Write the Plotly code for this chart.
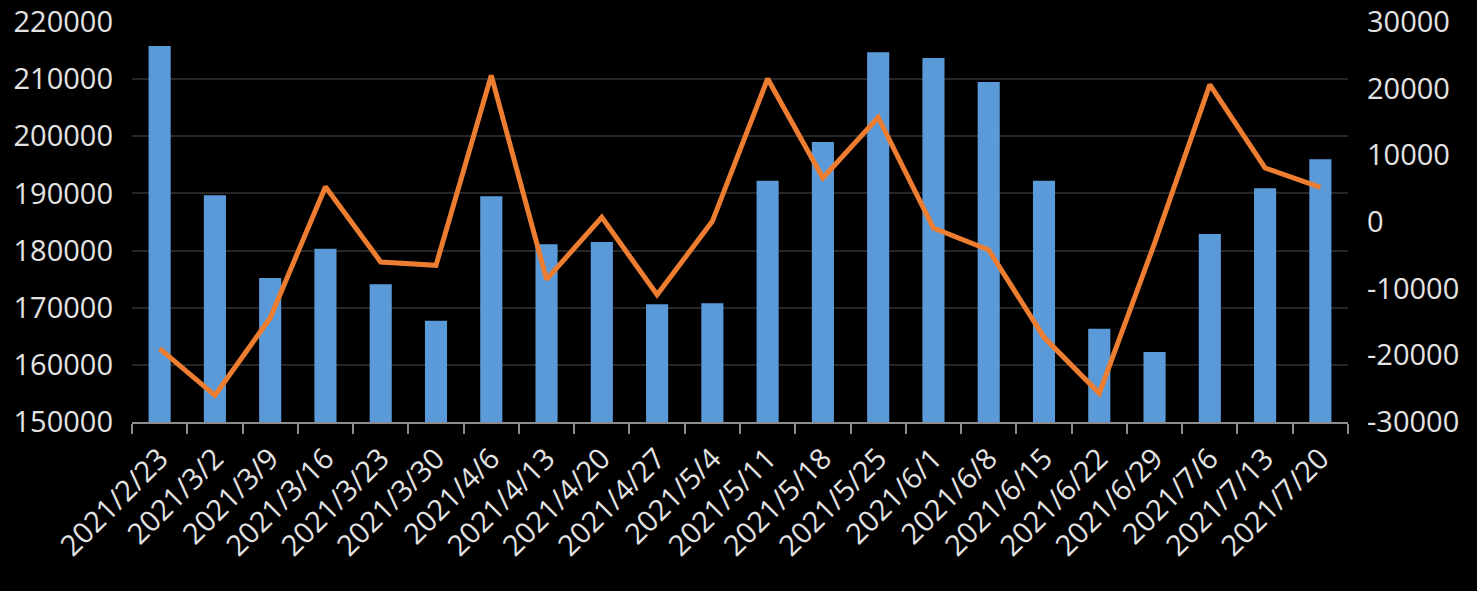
import plotly.graph_objects as go

dates = ["2021/2/23", "2021/3/2", "2021/3/9", "2021/3/16", "2021/3/23", "2021/3/30",
         "2021/4/6", "2021/4/13", "2021/4/20", "2021/4/27", "2021/5/4", "2021/5/11",
         "2021/5/18", "2021/5/25", "2021/6/1", "2021/6/8", "2021/6/15", "2021/6/22",
         "2021/6/29", "2021/7/6", "2021/7/13", "2021/7/20"]

bar_values = [215800, 189700, 175200, 180300, 174100, 167700,
              189500, 181100, 181500, 170600, 170800, 192200,
              199000, 214700, 213700, 209500, 192200, 166300,
              162250, 182900, 190900, 196000]

line_values = [-19000, -26000, -14400, 5300, -6000, -6500,
               22000, -8600, 700, -10900, 100, 21500,
               6600, 15700, -900, -4200, -17300, -25700,
               -3200, 20600, 8100, 5200]

left_ticks = [150000, 160000, 170000, 180000, 190000, 200000, 210000, 220000]
left_labels = ["150000", "160000", "170000", "180000", "190000", "200000", "210000", "220000"]
right_ticks = [-30000, -20000, -10000, 0, 10000, 20000, 30000]
right_labels = ["-30000", "-20000", "-10000", "0", "10000", "20000", "30000"]

FONT = "Open Sans"
TXT = "#E3E3E3"

fig = go.Figure()
fig.add_trace(go.Bar(
    x=dates, y=bar_values,
    marker=dict(color="#5A9AD8", line=dict(width=0)),
    yaxis="y",
    showlegend=False,
))
fig.add_trace(go.Scatter(
    x=dates, y=line_values,
    mode="lines",
    line=dict(color="#ED7D31", width=5),
    yaxis="y2",
    showlegend=False,
))

fig.update_layout(
    width=1477, height=591,
    paper_bgcolor="#000000",
    plot_bgcolor="#000000",
    margin=dict(l=132, r=129, t=22, b=169, autoexpand=False),
    bargap=0.6,
    font=dict(family=FONT, size=29, color=TXT),
    xaxis=dict(
        type="category",
        tickangle=-45,
        automargin=False,
        showgrid=False,
        showline=True, linecolor="#8C8C8C", linewidth=2,
        ticks="outside", tickson="boundaries", ticklen=10, tickwidth=2, tickcolor="#8C8C8C",
        ticklabelstandoff=6,
        tickfont=dict(family=FONT, size=29, color=TXT),
        zeroline=False,
    ),
    yaxis=dict(
        range=[150000, 220000],
        automargin=False,
        tickvals=left_ticks, ticktext=left_labels,
        showgrid=True, gridcolor="#262626", gridwidth=2,
        showline=False, zeroline=False,
        ticks="", ticklabelstandoff=18,
        tickfont=dict(family=FONT, size=29, color=TXT),
    ),
    yaxis2=dict(
        range=[-30000, 30000],
        automargin=False,
        tickvals=right_ticks, ticktext=right_labels,
        overlaying="y", side="right",
        showgrid=False, showline=False, zeroline=False,
        ticks="", ticklabelstandoff=18,
        tickfont=dict(family=FONT, size=29, color=TXT),
    ),
)

fig.write_html(
    "out.html",
    config={"displayModeBar": False},
    post_script="document.body.style.margin='0';document.body.style.overflow='hidden';document.body.style.background='#000';",
)
